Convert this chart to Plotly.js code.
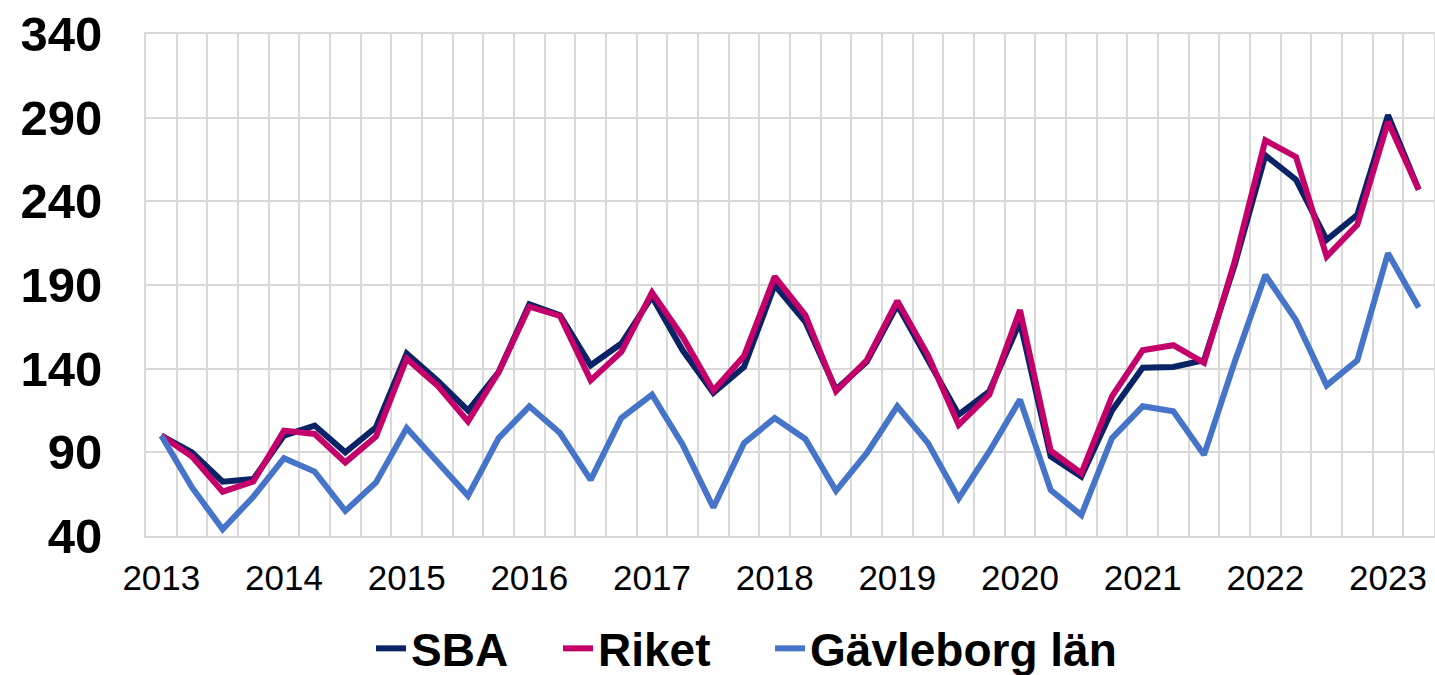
<!DOCTYPE html>
<html>
<head>
<meta charset="utf-8">
<script src="https://cdn.plot.ly/plotly-3.0.1.min.js"></script>
<style>
html, body { margin: 0; padding: 0; background: #fff; }
#chart { width: 1435px; height: 675px; }
</style>
</head>
<body>
<div id="chart"></div>
<script>
// Quarterly observations, 2013 Q1 – 2023 Q2
const quarters = [
  "2013 K1","2013 K2","2013 K3","2013 K4",
  "2014 K1","2014 K2","2014 K3","2014 K4",
  "2015 K1","2015 K2","2015 K3","2015 K4",
  "2016 K1","2016 K2","2016 K3","2016 K4",
  "2017 K1","2017 K2","2017 K3","2017 K4",
  "2018 K1","2018 K2","2018 K3","2018 K4",
  "2019 K1","2019 K2","2019 K3","2019 K4",
  "2020 K1","2020 K2","2020 K3","2020 K4",
  "2021 K1","2021 K2","2021 K3","2021 K4",
  "2022 K1","2022 K2","2022 K3","2022 K4",
  "2023 K1","2023 K2"
];
const yearLabels = ["2013","2014","2015","2016","2017","2018","2019","2020","2021","2022","2023"];

const sba = [100, 90, 72.5, 74, 100, 106, 90, 105, 149, 133, 115, 138,
  178.5, 172, 142, 155, 183, 151, 125.5, 141, 190, 168, 127.5, 144,
  178, 145, 112.5, 126.5, 168, 87.5, 75.5, 115, 140.5, 141, 145, 202,
  267.5, 253, 217, 232, 291.5, 247];
const riket = [100, 87.5, 66.5, 72.5, 103, 101, 84, 99.5, 146, 130, 108.5, 138,
  177, 171.5, 133, 150, 185.5, 159, 127, 147.5, 195, 172, 126.5, 145,
  180.5, 148, 106.5, 124.5, 175, 91, 77.5, 123.5, 151, 154, 143.5, 204,
  276.5, 266.5, 207, 226, 287.5, 247];
const gavleborg = [100, 69, 44, 63.5, 86.5, 78.5, 55, 72, 104.5, 84, 64, 98.5,
  117.5, 101.5, 73.5, 110.5, 124.5, 94.5, 57, 95.5, 110.5, 98, 67, 89.5,
  117.5, 95.5, 62.5, 90.5, 121.5, 67.5, 52.5, 98.5, 117.5, 114.5, 88.5, 144,
  196, 169, 130, 145, 209, 176.5];

const xIdx = quarters.map((q, i) => i);
const yearTickVals = quarters.map((q, i) => i).filter(i => quarters[i].endsWith("K1"));

function trace(name, vals, color, legendId) {
  return {
    type: "scatter", mode: "lines", name: name, legend: legendId,
    x: xIdx, y: vals, text: quarters,
    line: { color: color, width: 6 },
    hovertemplate: "%{text}: %{y}<extra>" + name + "</extra>"
  };
}

const data = [
  trace("SBA", sba, "#0a2266", "legend"),
  trace("Riket", riket, "#c4006a", "legend2"),
  trace("Gävleborg län", gavleborg, "#4674c8", "legend3")
];

const grid = "#d9d9d9";
const legFont = { family: "Liberation Sans, Arial, sans-serif", size: 46, color: "#000", weight: "bold" };
function leg(x) {
  return { orientation: "h", x: x, xanchor: "left", y: -0.224, yanchor: "middle",
           font: legFont, bgcolor: "rgba(0,0,0,0)", borderwidth: 0 };
}

const layout = {
  width: 1435, height: 675,
  margin: { l: 146, r: 1, t: 34, b: 139, autoexpand: false },
  paper_bgcolor: "#fff", plot_bgcolor: "#fff",
  showlegend: true,
  xaxis: {
    range: [-0.5, quarters.length - 0.5],
    tickmode: "array", tickvals: yearTickVals, ticktext: yearLabels,
    showgrid: false, zeroline: false,
    ticks: "", ticklabelstandoff: 10,
    tickfont: { family: "Liberation Sans, Arial, sans-serif", size: 35, color: "#000" },
    showline: true, linecolor: grid, linewidth: 2, mirror: true,
    minor: { tick0: -0.5, dtick: 1, showgrid: true, gridcolor: grid, gridwidth: 2, ticks: "" }
  },
  yaxis: {
    range: [40, 340], tick0: 40, dtick: 50,
    showgrid: true, gridcolor: grid, gridwidth: 2, zeroline: false,
    ticks: "", ticklabelstandoff: 32,
    tickfont: { family: "Liberation Sans, Arial, sans-serif", size: 49, color: "#000", weight: "bold" },
    showline: true, linecolor: grid, linewidth: 2, mirror: true
  },
  legend: leg(0.1747),
  legend2: leg(0.3199),
  legend3: leg(0.4845)
};

Plotly.newPlot("chart", data, layout, { displayModeBar: false, staticPlot: true });
</script>
</body>
</html>
